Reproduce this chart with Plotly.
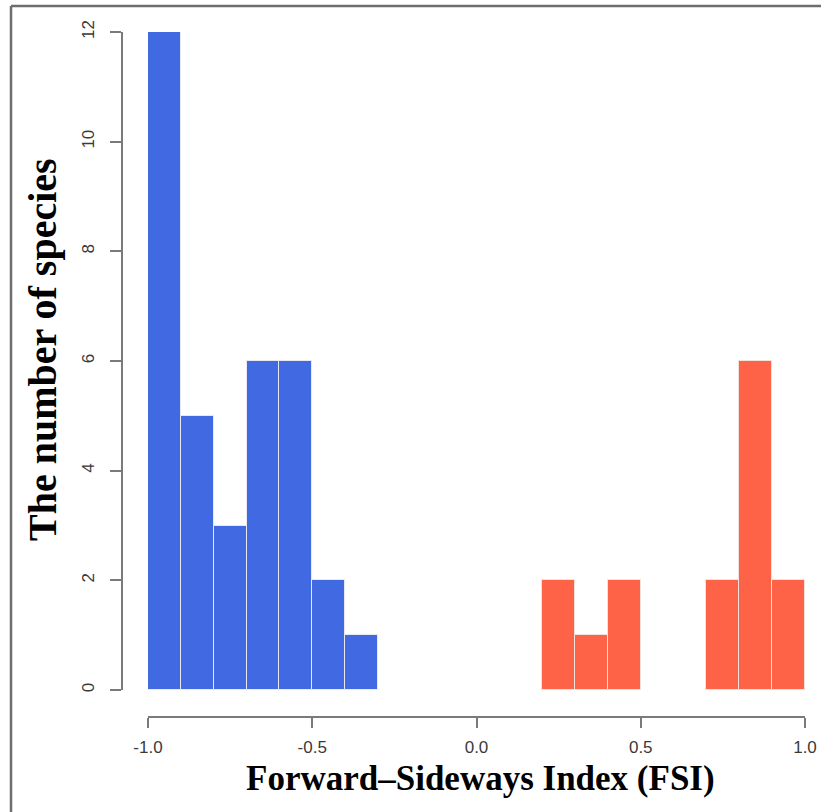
import plotly.graph_objects as go

# Histogram data (bin width 0.1)
bin_width = 0.1
blue_bin_left = [-1.0, -0.9, -0.8, -0.7, -0.6, -0.5, -0.4]
blue_counts = [12, 5, 3, 6, 6, 2, 1]
red_bin_left = [0.2, 0.3, 0.4, 0.7, 0.8, 0.9]
red_counts = [2, 1, 2, 2, 6, 2]

x_ticks = [-1.0, -0.5, 0.0, 0.5, 1.0]
x_ticklabels = ["-1.0", "-0.5", "0.0", "0.5", "1.0"]
y_ticks = [0, 2, 4, 6, 8, 10, 12]

W, H = 821, 812

def px_x(p):
    return p / W

def px_y(p):
    return 1 - p / H

fig = go.Figure()
fig.add_trace(go.Bar(
    x=[b + bin_width / 2 for b in blue_bin_left], y=blue_counts, width=bin_width,
    marker=dict(color="#4169E1", line=dict(color="#e8e8f0", width=1)),
    showlegend=False))
fig.add_trace(go.Bar(
    x=[b + bin_width / 2 for b in red_bin_left], y=red_counts, width=bin_width,
    marker=dict(color="#FF6347", line=dict(color="#f3e2dc", width=1)),
    showlegend=False))

axis_col = "#7a7a7a"
tick_font = dict(family="Liberation Sans, Arial, sans-serif", size=17, color="#3a3a3a")

fig.update_layout(
    width=W, height=H,
    margin=dict(l=0, r=0, t=0, b=0, pad=0, autoexpand=False),
    paper_bgcolor="white", plot_bgcolor="white",
    bargap=0,
    xaxis=dict(
        domain=[px_x(148), px_x(805)], range=[-1, 1],
        anchor="free", position=px_y(717), automargin=False,
        showgrid=False, zeroline=False,
        showline=True, linecolor=axis_col, linewidth=1.5,
        ticks="outside", ticklen=10, tickwidth=1.5, tickcolor=axis_col,
        tickvals=x_ticks, ticktext=x_ticklabels, tickfont=tick_font,
        ticklabelstandoff=5,
    ),
    yaxis=dict(
        domain=[px_y(690), px_y(32)], range=[0, 12],
        anchor="free", position=px_x(122), automargin=False,
        showgrid=False, zeroline=False,
        showline=True, linecolor=axis_col, linewidth=1.5,
        ticks="outside", ticklen=11, tickwidth=1.5, tickcolor=axis_col,
        tickvals=y_ticks, tickangle=-90, tickfont=tick_font,
        ticklabelstandoff=9,
    ),
    annotations=[
        dict(text="<b>Forward\u2013Sideways Index (FSI)</b>", xref="paper", yref="paper",
             x=px_x(480), y=px_y(778), xanchor="center", yanchor="middle", showarrow=False,
             font=dict(family="Liberation Serif, serif", size=35, color="black")),
        dict(text="<b>The number of species</b>", xref="paper", yref="paper",
             x=px_x(42), y=px_y(350), xanchor="center", yanchor="middle", showarrow=False,
             textangle=-90,
             font=dict(family="Liberation Serif, serif", size=40, color="black")),
    ],
    shapes=[
        dict(type="line", xref="paper", yref="paper", x0=px_x(11), x1=px_x(11),
             y0=0, y1=px_y(6), line=dict(color="#6e6e6e", width=2.5)),
        dict(type="line", xref="paper", yref="paper", x0=px_x(11), x1=1,
             y0=px_y(6), y1=px_y(6), line=dict(color="#6e6e6e", width=2.5)),
    ],
)

fig.write_html(
    "out.html",
    config={"displayModeBar": False},
    post_script="document.body.style.margin='0';document.body.style.overflow='hidden';",
)
